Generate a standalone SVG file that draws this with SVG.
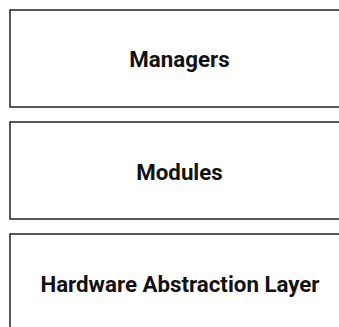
<svg xmlns="http://www.w3.org/2000/svg" width="339" height="327" viewBox="0 0 339 327">
  <style>
    .layer rect { fill: #ffffff; stroke: #222222; stroke-width: 1.5; }
    .layer text { font-family: Roboto, "Liberation Sans", sans-serif; font-weight: bold; font-size: 22.3px; fill: #111111; text-anchor: middle; }
  </style>
  <rect width="339" height="327" fill="#ffffff"/>
  <g id="managers" class="layer">
    <rect x="10" y="10" width="338" height="97"/>
    <text x="179.5" y="67">Managers</text>
  </g>
  <g id="modules" class="layer">
    <rect x="10" y="122" width="338" height="97"/>
    <text x="179.5" y="180">Modules</text>
  </g>
  <g id="hal" class="layer">
    <rect x="10" y="234" width="338" height="97"/>
    <text x="180" y="292">Hardware Abstraction Layer</text>
  </g>
  <g id="connectors"/>
</svg>
